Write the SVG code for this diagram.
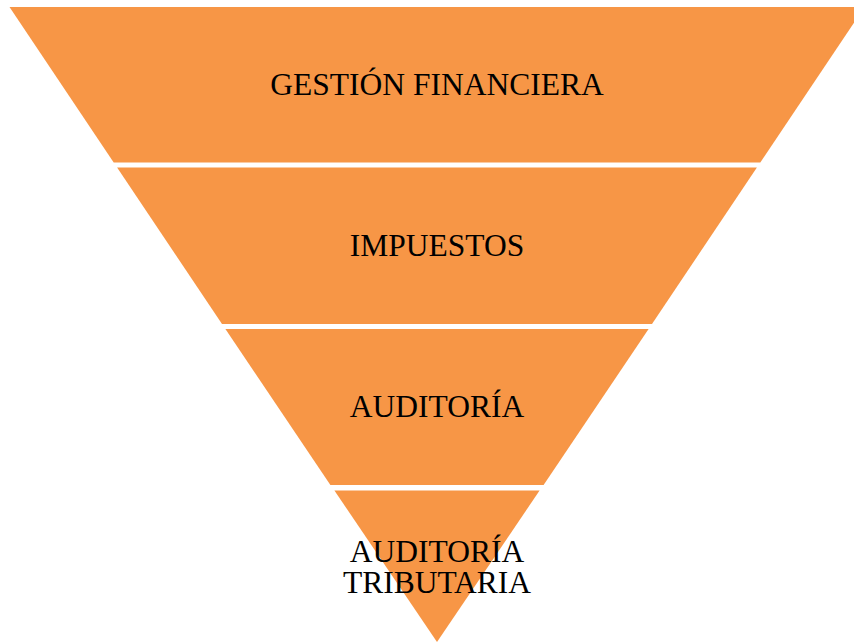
<svg xmlns="http://www.w3.org/2000/svg" width="854" height="642" viewBox="0 0 854 642">
<style>
.band{fill:#F79646;}
.lbl{font-family:"Liberation Serif","Times New Roman",serif;font-size:31.5px;fill:#000;text-anchor:middle;}
</style>
<rect width="854" height="642" fill="#ffffff"/>
<g id="n1">
<polygon class="band" points="9.5,7 864.5,7 760.3,162.5 113.7,162.5"/>
<text class="lbl" x="437" y="95">GESTIÓN FINANCIERA</text>
</g>
<g id="n2">
<polygon class="band" points="117.1,167.5 756.9,167.5 652,324 222,324"/>
<text class="lbl" x="437" y="256">IMPUESTOS</text>
</g>
<g id="n3">
<polygon class="band" points="225.4,329 648.6,329 543.6,485 330.4,485"/>
<text class="lbl" x="437" y="417">AUDITORÍA</text>
</g>
<g id="n4">
<polygon class="band" points="334.4,490.5 539.6,490.5 437,642"/>
<text class="lbl" x="437" y="562">AUDITORÍA</text>
<text class="lbl" x="437" y="593">TRIBUTARIA</text>
</g>
<g id="connectors"></g>
</svg>
